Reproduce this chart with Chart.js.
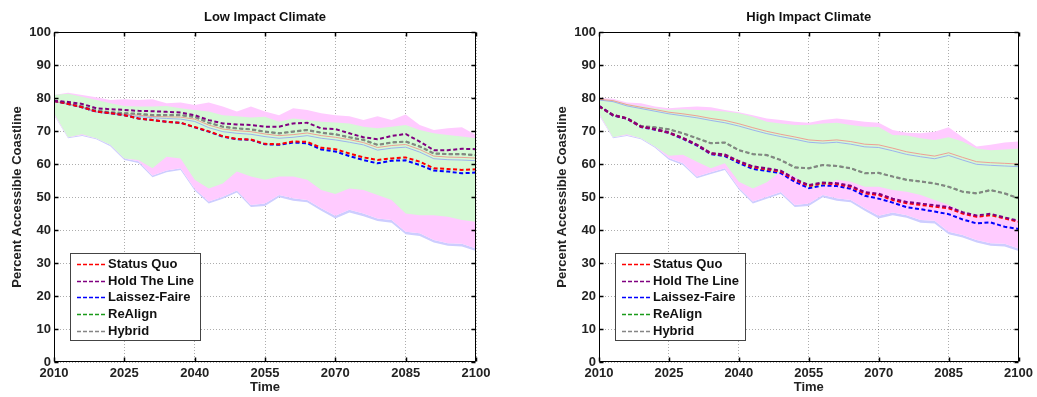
<!DOCTYPE html>
<html><head><meta charset="utf-8">
<script src="https://cdn.jsdelivr.net/npm/chart.js@4.4.1/dist/chart.umd.min.js"></script>
<style>
html,body{margin:0;padding:0;background:#fff;width:1037px;height:397px;overflow:hidden}
#cl{position:absolute;left:0;top:0}
#cr{position:absolute;left:518px;top:0}
</style></head><body>
<canvas id="cl" width="518" height="397"></canvas>
<canvas id="cr" width="519" height="397"></canvas>
<script>
const years = [2010,2013,2016,2019,2022,2025,2028,2031,2034,2037,2040,2043,2046,2049,2052,2055,2058,2061,2064,2067,2070,2073,2076,2079,2082,2085,2088,2091,2094,2097,2100];
const xTicks = [2010,2025,2040,2055,2070,2085,2100];
const yTicks = [0,10,20,30,40,50,60,70,80,90,100];
const seriesNames = ['Status Quo','Hold The Line','Laissez-Faire','ReAlign','Hybrid'];
const titles = ['Low Impact Climate','High Impact Climate'];

// ---- Low Impact Climate ----
const lowStatusQuo   = [79.1,78.2,77.2,75.9,75.4,74.8,73.8,73.3,72.8,72.5,71.2,69.9,68.4,67.6,67.4,66.1,66.0,66.8,66.7,64.9,64.5,63.2,62.0,61.2,61.7,62.0,60.7,58.7,58.5,58.2,58.4];
const lowHoldTheLine = [79.2,78.8,78.2,76.9,76.6,76.4,76.1,76.0,75.8,75.6,74.8,73.3,72.3,72.0,71.8,71.3,71.3,72.3,72.5,70.8,70.6,69.3,68.1,67.5,68.5,69.1,66.8,64.2,64.2,64.6,64.5];
const lowLaissezFaire= [79.1,78.2,77.2,75.9,75.4,74.8,73.8,73.3,72.8,72.5,71.1,69.8,68.3,67.5,67.3,66.0,65.8,66.5,66.3,64.4,63.8,62.4,61.2,60.2,61.0,61.1,59.7,58.0,57.7,57.2,57.4];
const lowReAlign     = [79.1,78.5,77.4,76.2,75.7,75.4,75.2,74.8,74.8,74.8,74.3,72.5,71.3,70.8,70.5,69.8,69.3,69.8,70.3,69.5,69.0,68.1,67.3,65.8,66.5,66.8,65.3,63.2,63.0,63.0,62.7];
const lowHybrid      = [79.1,78.5,77.4,76.2,75.7,75.4,75.2,74.8,74.8,74.8,74.3,72.5,71.3,70.8,70.5,69.8,69.3,69.8,70.3,69.5,69.0,68.1,67.3,65.8,66.5,66.8,65.3,63.2,63.0,63.0,62.7];
const lowThinSQ      = [79.0,78.3,77.2,76.0,75.5,75.1,74.8,74.4,74.3,74.2,73.6,71.8,70.6,70.1,69.8,69.1,68.6,68.9,69.4,68.6,68.1,67.4,66.5,65.0,65.6,65.9,64.4,62.4,62.1,62.0,61.8];
const lowThinLF      = [78.9,78.1,77.0,75.7,75.2,74.8,74.4,74.0,73.8,73.6,72.9,71.0,69.8,69.3,69.0,68.3,67.8,68.1,68.6,67.8,67.3,66.6,65.8,64.2,64.8,65.1,63.6,61.6,61.3,61.2,61.0];
const lowPinkTop     = [80.9,81.6,80.9,80.2,79.4,79.6,79.4,79.6,78.4,78.6,77.9,78.6,77.4,75.9,77.4,75.9,74.8,76.9,76.4,75.4,74.8,74.5,73.3,74.5,73.3,75.0,71.8,70.3,70.8,71.1,68.8];
const lowGreenTop    = [80.9,81.3,80.4,79.4,78.4,77.6,77.4,77.4,77.6,76.9,76.4,75.9,74.8,74.5,74.1,74.3,72.8,73.8,73.3,72.8,72.6,72.3,71.3,70.8,71.3,71.8,70.3,69.3,68.8,68.3,67.8];
const lowGreenBottom = [75.4,68.1,69.0,67.8,65.8,61.7,61.2,58.7,62.2,61.7,55.2,52.6,54.1,57.7,56.2,55.2,56.2,56.2,55.2,52.1,50.9,52.6,52.1,50.6,49.1,45.0,44.5,44.5,44.0,43.0,42.5];
const lowPinkBottom  = [75.0,68.1,68.8,67.8,65.8,61.7,60.8,56.5,58.0,58.7,52.5,48.6,50.1,52.0,47.6,48.0,50.6,49.6,49.1,46.6,44.3,46.1,45.0,43.5,43.0,39.5,39.0,37.0,36.0,35.8,34.4];
const lowLavBottom   = [74.8,67.8,68.5,67.5,65.4,61.2,60.3,56.0,57.5,58.2,52.0,48.0,49.5,51.4,47.0,47.3,49.9,48.9,48.4,45.8,43.5,45.3,44.2,42.7,42.2,38.7,38.2,36.2,35.2,35.0,33.6];

// ---- High Impact Climate ----
const highStatusQuo   = [77.5,74.8,73.8,71.3,70.5,69.5,67.8,65.8,63.2,62.7,60.7,59.0,58.4,57.7,55.2,53.3,54.1,53.9,53.1,51.1,50.6,49.1,48.1,47.6,47.1,46.6,45.0,44.0,44.5,43.5,42.5];
const highHoldTheLine = [77.6,74.9,73.9,71.4,70.6,69.6,67.9,65.9,63.3,62.9,60.9,59.3,58.7,58.0,55.5,53.6,54.4,54.2,53.4,51.5,51.0,49.5,48.5,48.0,47.5,47.0,45.4,44.4,44.9,43.8,42.8];
const highLaissezFaire= [77.5,74.7,73.7,71.2,70.4,69.4,67.6,65.6,63.0,62.4,60.3,58.5,57.9,57.2,54.6,52.7,53.5,53.3,52.5,50.4,49.5,48.3,46.9,46.3,45.6,44.8,43.2,42.0,42.3,41.0,40.3];
const highReAlign     = [77.5,74.8,73.8,71.5,71.1,70.5,69.3,67.8,66.3,66.5,64.2,63.0,62.7,61.2,59.0,58.7,59.7,59.4,58.7,57.2,57.3,56.2,55.2,54.7,54.1,53.1,51.6,51.1,52.1,51.1,49.6];
const highHybrid      = [77.5,74.8,73.8,71.5,71.1,70.5,69.3,67.8,66.3,66.5,64.2,63.0,62.7,61.2,59.0,58.7,59.7,59.4,58.7,57.2,57.3,56.2,55.2,54.7,54.1,53.1,51.6,51.1,52.1,51.1,49.6];
const highThinSQ      = [79.6,79.2,78.0,77.2,76.5,75.7,75.2,74.6,73.8,73.2,72.2,71.0,69.9,69.0,68.2,67.3,67.0,67.3,66.8,66.0,65.8,64.8,63.7,63.0,62.4,63.4,62.0,60.7,60.4,60.2,60.0];
const highThinLF      = [79.4,78.9,77.6,76.8,76.0,75.2,74.6,74.0,73.2,72.5,71.5,70.3,69.2,68.3,67.5,66.6,66.3,66.6,66.0,65.2,65.0,64.0,62.9,62.2,61.6,62.6,61.2,59.9,59.6,59.4,59.2];
const highPinkTop     = [80.0,79.8,78.6,78.4,77.4,76.9,77.2,77.4,77.2,76.4,75.7,74.8,73.8,73.3,72.8,72.5,73.3,73.8,73.3,72.8,72.5,70.3,69.5,69.3,69.8,71.1,68.1,65.3,65.8,66.5,66.8];
const highGreenTop    = [79.6,79.4,78.2,77.6,76.9,76.4,76.6,76.4,76.2,75.9,75.4,74.3,72.8,72.3,71.8,71.8,72.3,72.5,71.8,71.3,71.2,68.8,68.6,67.8,67.3,68.1,66.8,64.7,64.2,64.4,64.7];
const highGreenBottom = [75.4,68.1,69.0,67.8,65.3,62.5,62.8,60.7,58.7,60.2,54.6,52.6,54.5,57.7,56.2,52.5,53.1,55.2,54.6,53.1,53.1,52.1,51.6,50.6,49.1,47.6,45.5,44.5,44.0,43.5,43.0];
const highPinkBottom  = [75.0,68.1,68.8,67.8,65.3,61.8,60.2,56.2,57.5,58.7,52.8,48.6,50.1,51.5,47.6,48.0,50.6,49.6,49.1,46.6,44.3,45.3,44.5,43.0,42.8,39.5,38.5,37.0,36.0,35.8,34.4];
const highLavBottom   = [74.8,67.8,68.5,67.5,64.9,61.3,59.7,55.7,57.0,58.2,52.3,48.0,49.5,50.9,47.0,47.3,49.9,48.9,48.4,45.8,43.5,44.5,43.7,42.2,42.0,38.7,37.7,36.2,35.2,35.0,33.6];

const lineColors = ['#ff0000','#800080','#0000ff','#1a9a1a','#858585'];
const lineWidths = [2,2,2,1.2,2.2];
const FONT = "'Liberation Sans', Arial, Helvetica, sans-serif";
Chart.defaults.font.family = FONT;

function pts(arr){ return years.map((yr,i)=>({x:yr, y:arr[i]})); }

function buildDatasets(p){
  const ds = [];
  const dashOrder = [1,0,2,4,3];
  p.lines.forEach((arr,i)=>{
    ds.push({label:seriesNames[i], data:pts(arr), borderColor:lineColors[i], borderWidth:lineWidths[i],
      borderDash:[4,2.5], pointRadius:0, fill:false, order:dashOrder[i], tension:0});
  });
  ds.push({label:'thinSQ', data:pts(p.thinSQ), borderColor:'rgba(240,150,140,0.9)', borderWidth:1, pointRadius:0, fill:false, order:5});
  ds.push({label:'thinLF', data:pts(p.thinLF), borderColor:'rgba(150,170,240,0.9)', borderWidth:1, pointRadius:0, fill:false, order:6});
  ds.push({label:'gTop', data:pts(p.greenTop), borderColor:'rgba(0,0,0,0)', borderWidth:1, pointRadius:0, fill:'+1', backgroundColor:'#d5f9d5', order:7});
  ds.push({label:'gBot', data:pts(p.greenBottom), borderColor:'rgba(0,0,0,0)', borderWidth:1, pointRadius:0, fill:false, order:8});
  ds.push({label:'pTop', data:pts(p.pinkTop), borderColor:'rgba(0,0,0,0)', borderWidth:1, pointRadius:0, fill:'+1', backgroundColor:'#ffcbff', order:9});
  ds.push({label:'pBot', data:pts(p.pinkBottom), borderColor:'rgba(0,0,0,0)', borderWidth:1, pointRadius:0, fill:false, order:10});
  ds.push({label:'lTop', data:pts(p.pinkBottom), borderColor:'rgba(0,0,0,0)', borderWidth:1, pointRadius:0, fill:'+1', backgroundColor:'#cdcdff', order:11});
  ds.push({label:'lBot', data:pts(p.lavBottom), borderColor:'rgba(0,0,0,0)', borderWidth:1, pointRadius:0, fill:false, order:12});
  return ds;
}

const framePlugin = {
  id:'frame',
  afterDatasetsDraw(chart, args, opts){
    const {ctx, chartArea:a, scales} = chart;
    ctx.save();
    ctx.strokeStyle = '#000'; ctx.lineWidth = 1; ctx.setLineDash([]);
    const L = Math.round(a.left)+0.5, T = Math.round(a.top)+0.5, R = Math.round(a.right)-0.5, B = Math.round(a.bottom)-0.5;
    ctx.beginPath();
    ctx.rect(L, T, R-L, B-T);
    ctx.stroke();
    ctx.lineWidth = 1.5;
    ctx.beginPath();
    xTicks.forEach(v=>{
      const x = Math.round(scales.x.getPixelForValue(v))+0.5;
      ctx.moveTo(x, T); ctx.lineTo(x, T+4);
      ctx.moveTo(x, B); ctx.lineTo(x, B-4);
    });
    yTicks.forEach(v=>{
      const y = Math.round(scales.y.getPixelForValue(v))+0.5;
      ctx.moveTo(L, y); ctx.lineTo(L+4, y);
      ctx.moveTo(R, y); ctx.lineTo(R-4, y);
    });
    ctx.stroke();
    ctx.fillStyle = '#111';
    ctx.font = 'bold 13px ' + FONT;
    ctx.textAlign = 'center'; ctx.textBaseline = 'middle';
    ctx.fillText(opts.title, (a.left+a.right)/2, 17);
    const lx = Math.round(a.left) + 16, ly = 253, lw = 130, lh = 87;
    ctx.fillStyle = '#fff';
    ctx.fillRect(lx, ly, lw, lh);
    ctx.strokeStyle = '#444'; ctx.lineWidth = 1;
    ctx.strokeRect(lx+0.5, ly+0.5, lw, lh);
    seriesNames.forEach((name,i)=>{
      const y = ly + 11 + i*16.7;
      ctx.strokeStyle = lineColors[i]; ctx.lineWidth = 1.5; ctx.setLineDash([4,2]);
      ctx.beginPath(); ctx.moveTo(lx+7, Math.round(y)+0.5); ctx.lineTo(lx+35, Math.round(y)+0.5); ctx.stroke();
      ctx.setLineDash([]);
      ctx.fillStyle = '#111';
      ctx.textAlign = 'left'; ctx.textBaseline = 'middle';
      ctx.fillText(name, lx+38, y+0.5);
    });
    ctx.restore();
  }
};

function makeChart(id, p, title, padL, padR){
  return new Chart(document.getElementById(id), {
    type:'line',
    data:{datasets:buildDatasets(p)},
    options:{
      responsive:false, animation:false, devicePixelRatio:1,
      layout:{padding:{left:padL, right:padR, top:32, bottom:0}},
      plugins:{legend:{display:false}, tooltip:{enabled:false}, frame:{title:title}},
      scales:{
        x:{type:'linear', min:2010, max:2100,
          afterBuildTicks:s=>{ s.ticks = xTicks.map(v=>({value:v})); },
          afterFit:s=>{ s.height = 35; },
          ticks:{color:'#222', font:{size:13, weight:'bold'}, padding:4, maxRotation:0, autoSkip:false, callback:v=>String(v)},
          grid:{color:'rgba(0,0,0,0.32)', lineWidth:1, drawTicks:false},
          border:{display:false, dash:[1,2]},
          title:{display:true, text:'Time', color:'#222', font:{size:13, weight:'bold'}, padding:{top:0, bottom:2}}
        },
        y:{type:'linear', min:0, max:100,
          afterBuildTicks:s=>{ s.ticks = yTicks.map(v=>({value:v})); },
          afterFit:s=>{ s.width = 54; },
          ticks:{color:'#222', font:{size:13, weight:'bold'}, padding:3, callback:v=>String(v)},
          grid:{color:'rgba(0,0,0,0.32)', lineWidth:1, drawTicks:false},
          border:{display:false, dash:[1,2]},
          title:{display:true, text:'Percent Accessible Coastline', color:'#222', font:{size:13, weight:'bold'}, padding:{top:10, bottom:0}}
        }
      }
    },
    plugins:[framePlugin]
  });
}

makeChart('cl', {
  lines:[lowStatusQuo, lowHoldTheLine, lowLaissezFaire, lowReAlign, lowHybrid],
  thinSQ:lowThinSQ, thinLF:lowThinLF,
  pinkTop:lowPinkTop, greenTop:lowGreenTop, greenBottom:lowGreenBottom, pinkBottom:lowPinkBottom, lavBottom:lowLavBottom
}, titles[0], 0, 42);

makeChart('cr', {
  lines:[highStatusQuo, highHoldTheLine, highLaissezFaire, highReAlign, highHybrid],
  thinSQ:highThinSQ, thinLF:highThinLF,
  pinkTop:highPinkTop, greenTop:highGreenTop, greenBottom:highGreenBottom, pinkBottom:highPinkBottom, lavBottom:highLavBottom
}, titles[1], 27, 18);
</script>
</body></html>
